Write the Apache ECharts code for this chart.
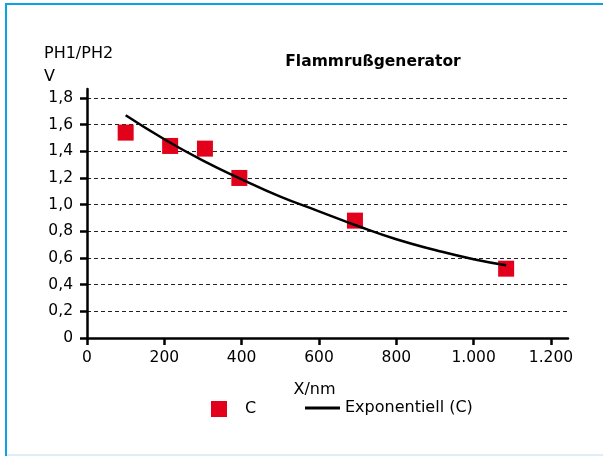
<!DOCTYPE html>
<html>
<head>
<meta charset="utf-8">
<script src="https://cdn.jsdelivr.net/npm/echarts@6/dist/echarts.min.js"></script>
<style>
html,body{margin:0;padding:0;background:#fff;overflow:hidden;width:603px;height:456px;}
#chart{position:absolute;left:0;top:0;width:603px;height:456px;}
</style>
</head>
<body>
<div id="chart"></div>
<script>
// Data
const titleText = 'Flammrußgenerator';
const yAxisTitle = 'PH1/PH2\nV';
const xAxisTitle = 'X/nm';
const seriesNames = ['C', 'Exponentiell (C)'];
const pointsX = [100, 215, 305, 394, 693, 1084];
const pointsY = [1.54, 1.44, 1.42, 1.20, 0.88, 0.52];
const trendX = [100, 200, 300, 400, 500, 600, 700, 800, 900, 1000, 1084];
const trendY = [1.67, 1.49, 1.33, 1.19, 1.06, 0.95, 0.84, 0.74, 0.66, 0.59, 0.545];
const xTicks = [0, 200, 400, 600, 800, 1000, 1200];
const yTicks = [0, 0.2, 0.4, 0.6, 0.8, 1.0, 1.2, 1.4, 1.6, 1.8];

const FONT = '"DejaVu Sans", "Open Sans", sans-serif';
const FS = 16;
const TFS = 15.5;
const chart = echarts.init(document.getElementById('chart'), null, {renderer: 'canvas'});

chart.setOption({
  animation: false,
  backgroundColor: '#fff',
  textStyle: {fontFamily: FONT},
  graphic: [
    {type: 'line', silent: true, shape: {x1: 6, y1: 4, x2: 603, y2: 4}, style: {stroke: '#0aa3e6', lineWidth: 2}},
    {type: 'line', silent: true, shape: {x1: 6, y1: 3, x2: 6, y2: 456}, style: {stroke: '#0aa3e6', lineWidth: 2}},
    {type: 'line', silent: true, shape: {x1: 7, y1: 455, x2: 603, y2: 455}, style: {stroke: '#dfeef6', lineWidth: 2}}
  ],
  title: [
    {text: titleText, left: 373, textAlign: 'center', top: 54, padding: 0,
     textStyle: {fontFamily: FONT, fontSize: 15.5, fontWeight: 'bold', color: '#000'}},
    {text: yAxisTitle, left: 44, top: 42, padding: 0,
     textStyle: {fontFamily: FONT, fontSize: FS, fontWeight: 'normal', color: '#000', lineHeight: 23}}
  ],
  grid: {left: 87, right: 35, top: 89, bottom: 118, containLabel: false},
  legend: [
    {data: [seriesNames[0]], left: 211, top: 401, padding: 0, icon: 'rect', itemWidth: 16, itemHeight: 16,
     textStyle: {fontFamily: FONT, fontSize: FS, color: '#000', padding: [0, 0, 0, 13]}},
    {data: [{name: seriesNames[1], icon: 'rect'}], left: 305, top: 400, padding: 0, itemWidth: 35, itemHeight: 3,
     itemStyle: {color: '#000'},
     textStyle: {fontFamily: FONT, fontSize: FS, color: '#000', padding: [0, 0, 0, 0]}}
  ],
  xAxis: {
    type: 'value', min: 0, max: 1244, interval: 200,
    name: xAxisTitle, nameLocation: 'middle', nameGap: 44,
    nameTextStyle: {fontFamily: FONT, fontSize: FS, color: '#000', padding: [0, 26, 0, 0]},
    axisLine: {show: true, onZero: false, lineStyle: {color: '#000', width: 2.5}},
    axisTick: {show: true, inside: false, length: 7, customValues: xTicks, lineStyle: {color: '#000', width: 2.5}},
    axisLabel: {show: true, customValues: xTicks, margin: 12, fontFamily: FONT, fontSize: TFS, color: '#000',
      formatter: v => v >= 1000 ? Math.floor(v / 1000) + '.' + String(v % 1000).padStart(3, '0') : String(v)},
    splitLine: {show: false}
  },
  yAxis: {
    type: 'value', min: 0, max: 1.867, interval: 0.2,
    axisLine: {show: true, onZero: false, lineStyle: {color: '#000', width: 2.5}},
    axisTick: {show: true, inside: false, length: 7, customValues: yTicks, lineStyle: {color: '#000', width: 2.5}},
    axisLabel: {show: true, customValues: yTicks, margin: 14, fontFamily: FONT, fontSize: TFS, color: '#000',
      formatter: v => v === 0 ? '0' : v.toFixed(1).replace('.', ',')},
    splitLine: {show: true, showMinLine: false, showMaxLine: true,
      lineStyle: {color: '#222', type: [4, 3], width: 1}}
  },
  series: [
    {name: seriesNames[0], type: 'scatter', symbol: 'rect', symbolSize: 16,
     itemStyle: {color: '#e2001a', opacity: 1}, z: 3,
     data: pointsX.map((x, i) => [x, pointsY[i]])},
    {name: seriesNames[1], type: 'line', smooth: true, symbol: 'none', showSymbol: false,
     lineStyle: {color: '#000', width: 2.5}, itemStyle: {color: '#000'}, z: 4,
     data: trendX.map((x, i) => [x, trendY[i]])}
  ]
});
</script>
</body>
</html>
